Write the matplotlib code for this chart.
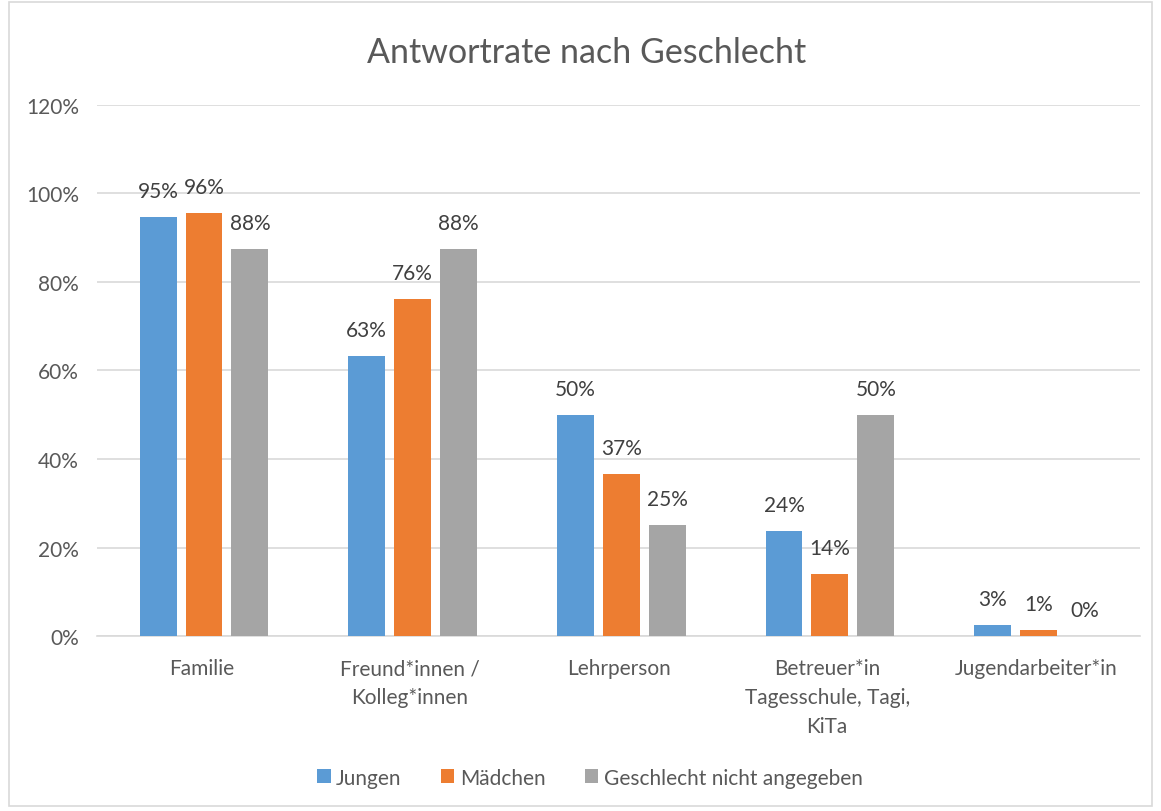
import matplotlib
matplotlib.use("Agg")
import matplotlib.pyplot as plt
import numpy as np
from matplotlib.patches import Rectangle
from matplotlib.ticker import FuncFormatter

plt.rcParams["font.family"] = ["Lato", "DejaVu Sans"]

categories = [
    "Familie",
    "Freund*innen /\nKolleg*innen",
    "Lehrperson",
    "Betreuer*in\nTagesschule, Tagi,\nKiTa",
    "Jugendarbeiter*in",
]
series_names = ["Jungen", "Mädchen", "Geschlecht nicht angegeben"]
jungen = [94.7, 63.2, 50.0, 23.7, 2.6]
maedchen = [95.6, 76.1, 36.6, 14.1, 1.4]
nicht_angegeben = [87.5, 87.5, 25.0, 50.0, 0.0]
colors = ["#5B9BD5", "#ED7D31", "#A5A5A5"]

fig = plt.figure(figsize=(11.61, 8.12), dpi=100)
ax = fig.add_axes([0.0835, 0.2155, 0.8985, 0.654])

x = np.arange(len(categories))
width = 0.177
step = 0.22
for i, (vals, name, col) in enumerate(zip([jungen, maedchen, nicht_angegeben], series_names, colors)):
    bars = ax.bar(x + 0.013 + (i - 1) * step, vals, width, color=col, label=name, zorder=3)
    for b, v in zip(bars, vals):
        ax.text(b.get_x() + b.get_width() / 2, v + 3.6, f"{v:.0f}%", ha="center", va="bottom",
                fontsize=15, color="#404040")

ax.set_xlim(-0.5, len(categories) - 0.5)
ax.set_ylim(0, 120)
ax.set_yticks(range(0, 121, 20))
ax.yaxis.set_major_formatter(FuncFormatter(lambda v, _: f"{v:.0f}%"))
ax.grid(axis="y", color="#D9D9D9", linewidth=1.2, zorder=0)
ax.set_xticks(x)
ax.set_xticklabels(categories, fontsize=15, color="#595959", linespacing=1.55)
ax.tick_params(axis="y", labelsize=15, labelcolor="#595959", length=0, pad=13)
ax.tick_params(axis="x", length=0, pad=16)
for s in ["top", "right", "left"]:
    ax.spines[s].set_visible(False)
ax.spines["bottom"].set_color("#D9D9D9")
ax.spines["bottom"].set_linewidth(1.2)

fig.text(0.505, 0.935, "Antwortrate nach Geschlecht", ha="center", va="center",
         fontsize=24.5, color="#595959")

leg = fig.legend(loc="center", bbox_to_anchor=(0.508, 0.041), ncol=3, frameon=False,
                 fontsize=15, handlelength=0.65, handleheight=0.65, handletextpad=0.25,
                 columnspacing=1.9)
for t in leg.get_texts():
    t.set_color("#595959")

fig.patches.append(Rectangle((0.008, 0.006), 0.984, 0.99, transform=fig.transFigure,
                             fill=False, edgecolor="#D9D9D9", linewidth=1.2))

fig.savefig("out.png", dpi=100)
